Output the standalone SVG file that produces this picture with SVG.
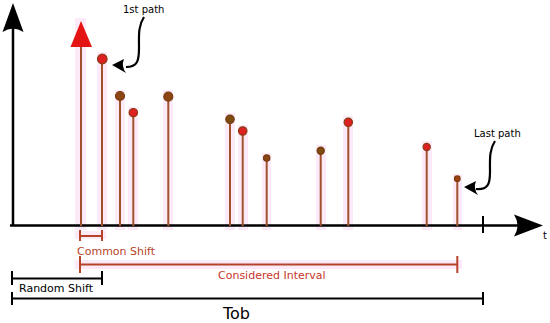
<svg xmlns="http://www.w3.org/2000/svg" width="550" height="323" viewBox="0 0 550 323">
<style>
.ax{stroke:#000;stroke-width:2.5;fill:none}
.stem{stroke:#a0522d;stroke-width:2;fill:none}
.band{fill:#fdeaf8}
.dr{fill:#dd2020;stroke:#8b3a13;stroke-width:1.2}
.db{fill:#8b4513;stroke:#7a3a10;stroke-width:1.2}
.brk{stroke:#b5442a;stroke-width:2;fill:none}
.blk{stroke:#000;stroke-width:2;fill:none}
.t{font-family:"DejaVu Sans",sans-serif;font-size:11px}
.s10{font-size:10px}
.s16{font-size:16px}
.cur{stroke:#000;stroke-width:2.2;fill:none}
</style>
<rect width="550" height="323" fill="#fff"/>
<g id="bands">
<rect class="band" x="75" y="18" width="11" height="212"/>
<rect class="band" x="97" y="52" width="10" height="178"/>
<rect class="band" x="115" y="90" width="10" height="140"/>
<rect class="band" x="128" y="107" width="10" height="123"/>
<rect class="band" x="163" y="90" width="10" height="140"/>
<rect class="band" x="225" y="113" width="10" height="117"/>
<rect class="band" x="238" y="125" width="10" height="105"/>
<rect class="band" x="262" y="153" width="9" height="77"/>
<rect class="band" x="316" y="145" width="10" height="85"/>
<rect class="band" x="343" y="116" width="10" height="114"/>
<rect class="band" x="422" y="141" width="10" height="89"/>
<rect class="band" x="453" y="174" width="9" height="56"/>
<rect class="band" x="75" y="231" width="31" height="8"/>
<rect class="band" x="75" y="260" width="387" height="9"/>
</g>
<g id="axes">
<line class="ax" x1="13" y1="226" x2="13" y2="25"/>
<path d="M13,3 L23.5,32 Q13,25 2.5,32 Z" fill="#000"/>
<line class="ax" x1="10" y1="225.5" x2="520" y2="225.5"/>
<path d="M543,225.5 L514,214.5 Q521,225.5 514,236.5 Z" fill="#000"/>
<line class="blk" x1="483" y1="216" x2="483" y2="233"/>
<text class="t s10" x="543" y="239">t</text>
</g>
<g id="paths">
<line class="stem" x1="81" y1="226" x2="81" y2="44"/>
<path d="M81,21 L92,47 L70.5,47 Z" fill="#e41414"/>
<line class="stem" x1="102" y1="226" x2="102" y2="59"/>
<circle class="dr" cx="102.3" cy="59" r="4.8"/>
<line class="stem" x1="120" y1="226" x2="120" y2="96"/>
<circle class="db" cx="120" cy="96" r="4.5"/>
<line class="stem" x1="133.3" y1="226" x2="133.3" y2="113"/>
<circle class="dr" cx="133.3" cy="112.7" r="4.2"/>
<line class="stem" x1="168.3" y1="226" x2="168.3" y2="97"/>
<circle class="db" cx="168.3" cy="96.7" r="4.5"/>
<line class="stem" x1="230" y1="226" x2="230" y2="119"/>
<circle class="db" cx="230" cy="119.3" r="4.2" style="fill:#7d4a10"/>
<line class="stem" x1="242.7" y1="226" x2="242.7" y2="131"/>
<circle class="dr" cx="242.7" cy="131" r="4.2"/>
<line class="stem" x1="266.7" y1="226" x2="266.7" y2="158"/>
<circle class="db" cx="266.7" cy="158" r="3.2"/>
<line class="stem" x1="320.7" y1="226" x2="320.7" y2="151"/>
<circle class="db" cx="320.7" cy="150.7" r="3.6" style="fill:#7d4a10"/>
<line class="stem" x1="348.3" y1="226" x2="348.3" y2="122"/>
<circle class="dr" cx="348.3" cy="122.3" r="4.2"/>
<line class="stem" x1="426.7" y1="226" x2="426.7" y2="147"/>
<circle class="dr" cx="426.7" cy="147" r="3.6"/>
<line class="stem" x1="457.3" y1="226" x2="457.3" y2="179"/>
<circle class="db" cx="457.3" cy="178.7" r="2.8" style="fill:#a0400f"/>
</g>
<g id="label-first">
<text class="t s10" x="123" y="13">1st path</text>
<path class="cur" d="M144,17 C138,26 139,36 139,48 C139,60 138,67 126,67"/>
<path d="M112,65 L124,59 Q121,66 126,73 Z" fill="#000"/>
</g>
<g id="label-last">
<text class="t s10" x="474" y="137">Last path</text>
<path class="cur" d="M495,141 C489,150 490,160 490,172 C490,184 488,190 476,189"/>
<path d="M464,187 L476,181 Q473,188 478,195 Z" fill="#000"/>
</g>
<g id="common-shift">
<line class="brk" x1="80" y1="236" x2="102" y2="236"/>
<line class="brk" x1="80" y1="230" x2="80" y2="241"/>
<line class="brk" x1="102" y1="230" x2="102" y2="241"/>
<text class="t" x="77" y="255" fill="#b5442a">Common Shift</text>
</g>
<g id="considered-interval">
<line class="brk" x1="80" y1="264.5" x2="457" y2="264.5"/>
<line class="brk" x1="80" y1="256" x2="80" y2="273"/>
<line class="brk" x1="457.3" y1="256" x2="457.3" y2="273"/>
<text class="t" x="218" y="279" fill="#c8372d">Considered Interval</text>
</g>
<g id="random-shift">
<line class="blk" x1="12" y1="278.5" x2="102" y2="278.5"/>
<line class="blk" x1="12" y1="271" x2="12" y2="285"/>
<line class="blk" x1="102" y1="271" x2="102" y2="285"/>
<text class="t" x="19" y="292" fill="#000">Random Shift</text>
</g>
<g id="tob">
<line class="blk" x1="12" y1="298.5" x2="483" y2="298.5" stroke-width="3"/>
<line class="blk" x1="12" y1="292" x2="12" y2="305"/>
<line class="blk" x1="483" y1="292" x2="483" y2="305"/>
<text class="t s16" x="223" y="319" fill="#000">Tob</text>
</g>
</svg>
